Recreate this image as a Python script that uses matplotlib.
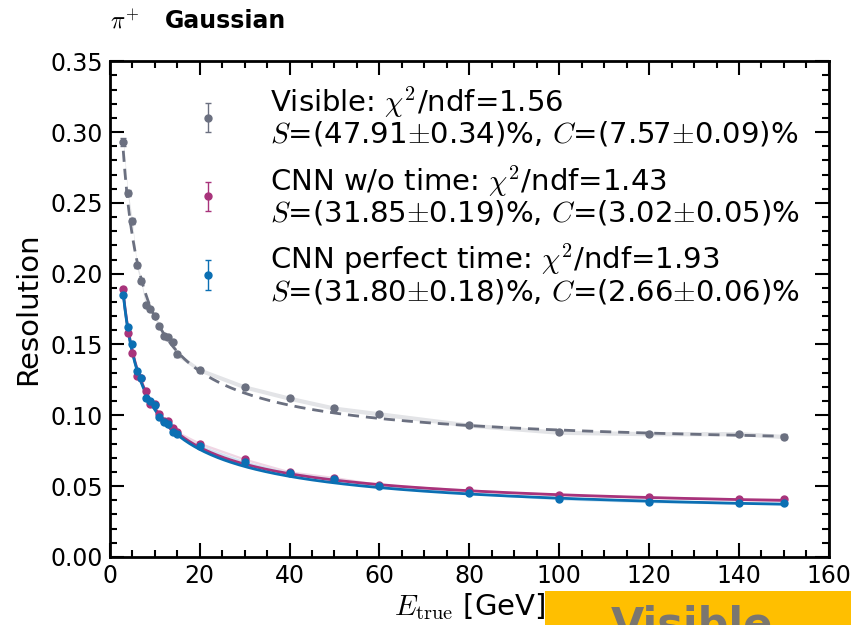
import numpy as np
import matplotlib
matplotlib.use("Agg")
import matplotlib.pyplot as plt
from matplotlib.patches import Rectangle
from matplotlib.ticker import MultipleLocator

plt.rcParams['mathtext.fontset'] = 'cm'
plt.rcParams['font.family'] = 'DejaVu Sans'

# beam energies [GeV]
energy = [3, 4, 5, 6, 7, 8, 9, 10, 11, 12, 13, 14, 15, 20, 30, 40, 50, 60, 80, 100, 120, 140, 150]

# resolution
res_visible = [0.293, 0.257, 0.237, 0.206, 0.195, 0.178, 0.175, 0.170, 0.163, 0.156, 0.155, 0.152,
               0.143, 0.132, 0.120, 0.112, 0.105, 0.101, 0.093, 0.088, 0.087, 0.087, 0.085]
res_notime = [0.189, 0.158, 0.144, 0.128, 0.126, 0.117, 0.108, 0.108, 0.101, 0.096, 0.096, 0.091,
              0.088, 0.080, 0.069, 0.060, 0.056, 0.051, 0.047, 0.044, 0.042, 0.041, 0.041]
res_perfect = [0.185, 0.162, 0.150, 0.131, 0.126, 0.112, 0.110, 0.107, 0.099, 0.095, 0.094, 0.088,
               0.087, 0.078, 0.067, 0.059, 0.055, 0.050, 0.045, 0.041, 0.039, 0.038, 0.038]

err_visible = [0.0025, 0.002, 0.002, 0.0018, 0.0018, 0.0016, 0.0016, 0.0016, 0.0015, 0.0015, 0.0015, 0.0015,
               0.0015, 0.0015, 0.0015, 0.0015, 0.0015, 0.0015, 0.0015, 0.0015, 0.0015, 0.0015, 0.0015]
err_cnn = [0.0015, 0.0012, 0.0012, 0.001, 0.001, 0.001, 0.001, 0.001, 0.001, 0.001, 0.001, 0.001,
           0.001, 0.001, 0.0008, 0.0008, 0.0008, 0.0008, 0.0008, 0.0008, 0.0008, 0.0008, 0.0008]

# fit results: sigma/E = sqrt(S^2/E + C^2)
fit_S = {'visible': 0.4791, 'notime': 0.3185, 'perfect': 0.3180}
fit_C = {'visible': 0.0757, 'notime': 0.0302, 'perfect': 0.0266}

labels = {
    'visible': "Visible: $\\chi^2$/ndf=1.56\n$S$=(47.91$\\pm$0.34)%, $C$=(7.57$\\pm$0.09)%",
    'notime': "CNN w/o time: $\\chi^2$/ndf=1.43\n$S$=(31.85$\\pm$0.19)%, $C$=(3.02$\\pm$0.05)%",
    'perfect': "CNN perfect time: $\\chi^2$/ndf=1.93\n$S$=(31.80$\\pm$0.18)%, $C$=(2.66$\\pm$0.06)%",
}

colors = {'visible': '#6b7080', 'notime': '#a8337b', 'perfect': '#0b6fb3'}
band_colors = {'visible': '#e3e4e7', 'notime': '#f0d6e4', 'perfect': '#cfe2f0'}

series = [('visible', res_visible, err_visible, '--'),
          ('notime', res_notime, err_cnn, '-'),
          ('perfect', res_perfect, err_cnn, '-')]

fig = plt.figure(figsize=(8.51, 6.25), dpi=100)
ax = fig.add_axes([0.129, 0.109, 0.845, 0.793])

e = np.array(energy)
e_fine = np.linspace(e.min(), e.max(), 400)
for key, res, err, ls in series:
    r = np.array(res)
    er = np.array(err)
    ax.fill_between(e, r - er, r + er, color=band_colors[key], lw=0, zorder=1)
    fit = np.sqrt(fit_S[key] ** 2 / e_fine + fit_C[key] ** 2)
    ax.plot(e_fine, fit, ls=ls, color=colors[key], lw=2, zorder=2,
            dashes=(4, 2.5) if ls == '--' else (None, None))
    ax.errorbar(e, r, yerr=er, fmt='o', color=colors[key], ms=5, capsize=2,
                elinewidth=1, label=labels[key], zorder=3)

ax.set_xlim(0, 160)
ax.set_ylim(0, 0.35)
ax.xaxis.set_major_locator(MultipleLocator(20))
ax.xaxis.set_minor_locator(MultipleLocator(5))
ax.yaxis.set_major_locator(MultipleLocator(0.05))
ax.yaxis.set_minor_locator(MultipleLocator(0.01))
ax.yaxis.set_major_formatter(plt.FormatStrFormatter('%.2f'))
ax.tick_params(which='both', direction='in', top=True, right=True, labelsize=17, width=1.5)
ax.tick_params(which='major', length=10, pad=5)
ax.tick_params(which='minor', length=5)
for sp in ax.spines.values():
    sp.set_linewidth(2)

ax.set_xlabel(r'$E_{\rm true}$ [GeV]', fontsize=21, labelpad=2)
ax.set_ylabel('Resolution', fontsize=21, labelpad=6)

ax.text(0.0, 1.067, r'$\pi^{+}$', transform=ax.transAxes, fontsize=17, va='baseline', ha='left')
ax.text(0.076, 1.067, 'Gaussian', transform=ax.transAxes, fontsize=17, fontweight='bold',
        va='baseline', ha='left')

leg = ax.legend(loc='upper right', bbox_to_anchor=(1 - 9 / 719, 1 - 3 / 496), frameon=False,
                fontsize=21, handletextpad=1.1, labelspacing=0.5, borderaxespad=0.3,
                borderpad=0.4, handlelength=2.0)
for t in leg.get_texts():
    t.set_linespacing(1.0)

# orange banner at the bottom right
fig.patches.append(Rectangle((545 / 851, 0), 306 / 851, 34 / 625, transform=fig.transFigure,
                             facecolor='#ffbf00', edgecolor='none', zorder=0))
fig.text(692 / 851, 20 / 625, 'Visible', fontsize=31, fontweight='bold', color='#7a7670',
         ha='center', va='top')

fig.savefig('out.png', dpi=100)
